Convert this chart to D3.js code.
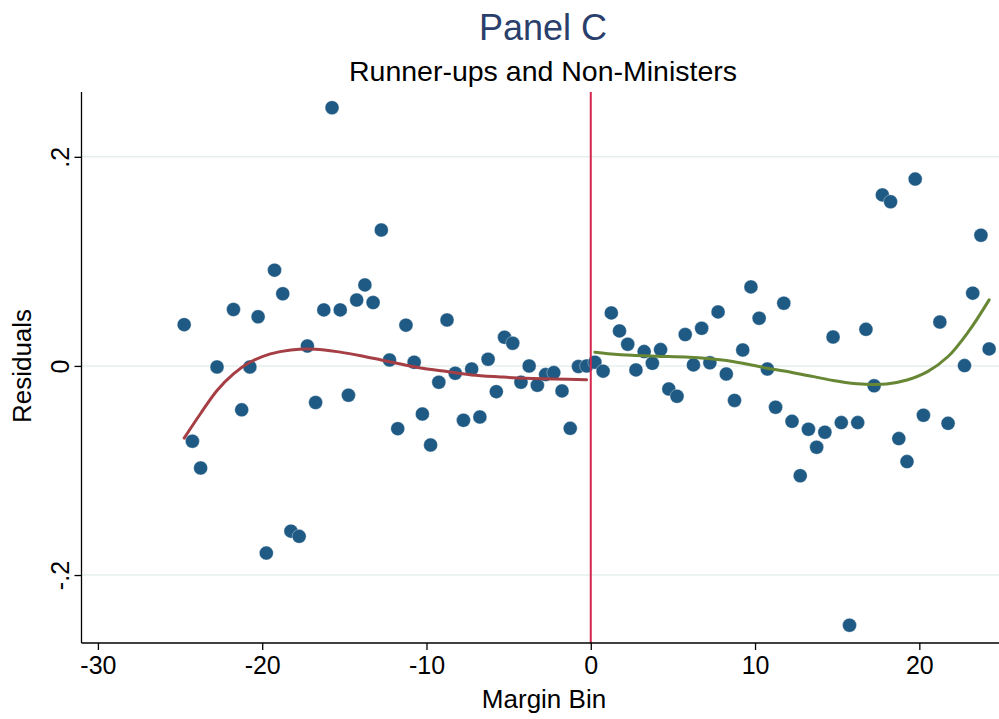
<!DOCTYPE html>
<html>
<head>
<meta charset="utf-8">
<script src="https://cdn.jsdelivr.net/npm/d3@7"></script>
<style>
  html, body { margin: 0; padding: 0; background: #fff; }
  svg { display: block; }
  text { font-family: "Liberation Sans", Arial, Helvetica, sans-serif; }
</style>
</head>
<body>
<svg id="chart" width="999" height="719"></svg>
<script>
// ---- Data ----
const leftBins = [-24.75,-24.25,-23.75,-22.75,-21.75,-21.25,-20.75,-20.25,-19.75,-19.25,-18.75,-18.25,-17.75,-17.25,-16.75,-16.25,-15.75,-15.25,-14.75,-14.25,-13.75,-13.25,-12.75,-12.25,-11.75,-11.25,-10.75,-10.25,-9.75,-9.25,-8.75,-8.25,-7.75,-7.25,-6.75,-6.25,-5.75,-5.25,-4.75,-4.25,-3.75,-3.25,-2.75,-2.25,-1.75,-1.25,-0.75,-0.25];
const leftResiduals = [0.0395,-0.072,-0.0976,-0.001,0.054,-0.042,-0.001,0.047,-0.179,0.0916,0.069,-0.158,-0.163,0.019,-0.035,0.0536,0.247,0.0536,-0.028,0.063,0.0775,0.0606,0.130,0.0057,-0.060,0.039,0.0035,-0.046,-0.0756,-0.0156,0.044,-0.007,-0.052,-0.003,-0.0488,0.0064,-0.0246,0.0274,0.0217,-0.0156,0.0,-0.0185,-0.0083,-0.0064,-0.0239,-0.0597,-0.0006,0.0];

const rightBins = [0.25,0.75,1.25,1.75,2.25,2.75,3.25,3.75,4.25,4.75,5.25,5.75,6.25,6.75,7.25,7.75,8.25,8.75,9.25,9.75,10.25,10.75,11.25,11.75,12.25,12.75,13.25,13.75,14.25,14.75,15.25,15.75,16.25,16.75,17.25,17.75,18.25,18.75,19.25,19.75,20.25,21.25,21.75,22.75,23.25,23.75,24.25];
const rightResiduals = [0.0035,-0.005,0.0507,0.0335,0.0207,-0.0038,0.0137,0.0025,0.0156,-0.022,-0.029,0.030,0.001,0.036,0.003,0.0517,-0.0077,-0.033,0.0153,0.0756,0.0456,-0.003,-0.0395,0.060,-0.053,-0.105,-0.0606,-0.0778,-0.0634,0.0277,-0.0542,-0.248,-0.0542,0.035,-0.019,0.1636,0.157,-0.0695,-0.0915,0.1787,-0.0472,0.042,-0.0549,0.0003,0.0696,0.125,0.0163];

const leftFitX = [-24.75,-23.75,-22.75,-21.75,-20.75,-19.5,-18.25,-16.75,-15.25,-14,-12.75,-11.5,-10.25,-8.75,-7.25,-5.5,-4,-2.25,-0.25];
const leftFitY = [-0.069,-0.0455,-0.0235,-0.0075,0.0035,0.0115,0.0153,0.016,0.0132,0.0098,0.0057,0.0016,-0.0022,-0.0054,-0.0086,-0.0105,-0.0118,-0.0124,-0.0131];

const rightFitX = [0.25,1.25,2.5,4,6,8,9.25,10.75,12.25,13.5,14.75,15.5,16.75,18,19.25,20.5,21.75,23,24.25];
const rightFitY = [0.0131,0.0115,0.0102,0.0093,0.0083,0.0057,0.0026,-0.0022,-0.0062,-0.0100,-0.014,-0.0158,-0.0175,-0.0172,-0.0134,-0.0054,0.009,0.033,0.0632];

const xTicks = [-30,-20,-10,0,10,20];
const xTickLabels = ["-30","-20","-10","0","10","20"];
const yTicks = [-0.2,0,0.2];
const yTickLabels = ["-.2","0",".2"];

const titleText = "Panel C";
const subtitleText = "Runner-ups and Non-Ministers";
const xLabel = "Margin Bin";
const yLabel = "Residuals";

// ---- Layout ----
const svg = d3.select("#chart");
const plot = {left: 81.5, right: 999, top: 92, bottom: 643};

const x = d3.scaleLinear().domain([-31, 24.85]).range([plot.left, plot.right]);
const y = d3.scaleLinear().domain([-0.265, 0.262]).range([plot.bottom, plot.top]);

const colors = {
  point: "#1f5a84",
  left: "#a53f45",
  right: "#678735",
  cutoff: "#d6264e",
  grid: "#e6efef",
  title: "#2a3f6b"
};
const FONT = '"Liberation Sans", Arial, sans-serif';

// gridlines
svg.append("g").selectAll("line").data(yTicks).join("line")
  .attr("x1", plot.left).attr("x2", plot.right)
  .attr("y1", d => y(d)).attr("y2", d => y(d))
  .attr("stroke", colors.grid).attr("stroke-width", 1.6);

// points
const pts = leftBins.map((b,i) => ({x:b, y:leftResiduals[i]}))
  .concat(rightBins.map((b,i) => ({x:b, y:rightResiduals[i]})));
svg.append("g").selectAll("circle").data(pts).join("circle")
  .attr("cx", d => x(d.x)).attr("cy", d => y(d.y)).attr("r", 7)
  .attr("fill", colors.point).attr("stroke", "#ffffff").attr("stroke-width", 0.6).attr("stroke-opacity", 0.6);

// fitted lines
const line = d3.line().x(d => x(d[0])).y(d => y(d[1])).curve(d3.curveCatmullRom);
svg.append("path").datum(leftFitX.map((v,i)=>[v,leftFitY[i]]))
  .attr("d", line).attr("fill","none").attr("stroke", colors.left).attr("stroke-width", 3).attr("stroke-linecap","round");
svg.append("path").datum(rightFitX.map((v,i)=>[v,rightFitY[i]]))
  .attr("d", line).attr("fill","none").attr("stroke", colors.right).attr("stroke-width", 3).attr("stroke-linecap","round");

// cutoff line
svg.append("line")
  .attr("x1", x(0)).attr("x2", x(0)).attr("y1", plot.top).attr("y2", plot.bottom)
  .attr("stroke", colors.cutoff).attr("stroke-width", 2);

// axes
const xAxis = d3.axisBottom(x).tickValues(xTicks).tickSize(7).tickPadding(6)
  .tickFormat(d => xTickLabels[xTicks.indexOf(d)]);
const gx = svg.append("g").attr("transform", `translate(0,${plot.bottom})`).call(xAxis);
gx.select(".domain").attr("d", `M${plot.left},0H${plot.right}`).attr("stroke","#000").attr("stroke-width",1.3);
gx.selectAll(".tick line").attr("stroke","#000").attr("stroke-width",1.3);
gx.selectAll(".tick text").attr("font-size", 25).attr("fill","#000").attr("font-family", FONT);

const yAxis = d3.axisLeft(y).tickValues(yTicks).tickSize(7).tickFormat(d => yTickLabels[yTicks.indexOf(d)]);
const gy = svg.append("g").attr("transform", `translate(${plot.left},0)`).call(yAxis);
gy.select(".domain").attr("d", `M0,${plot.top}V${plot.bottom}`).attr("stroke","#000").attr("stroke-width",1.3);
gy.selectAll(".tick line").attr("stroke","#000").attr("stroke-width",1.3);
gy.selectAll(".tick text")
  .attr("font-size", 25).attr("fill","#000").attr("font-family", FONT)
  .attr("x", null).attr("dy", null)
  .attr("text-anchor","middle")
  .attr("transform", "translate(-13,0) rotate(-90)")
  .attr("y", 0);

// titles
svg.append("text").attr("x", 543).attr("y", 40).attr("text-anchor","middle")
  .attr("font-size", 36).attr("fill", colors.title).text(titleText);
svg.append("text").attr("x", 543).attr("y", 81).attr("text-anchor","middle")
  .attr("font-size", 28.5).attr("fill", "#000").text(subtitleText);
svg.append("text").attr("x", 544).attr("y", 708).attr("text-anchor","middle")
  .attr("font-size", 26).attr("fill", "#000").text(xLabel);
svg.append("text").attr("transform", `translate(31,366) rotate(-90)`).attr("text-anchor","middle")
  .attr("font-size", 26).attr("fill", "#000").text(yLabel);
</script>
</body>
</html>
